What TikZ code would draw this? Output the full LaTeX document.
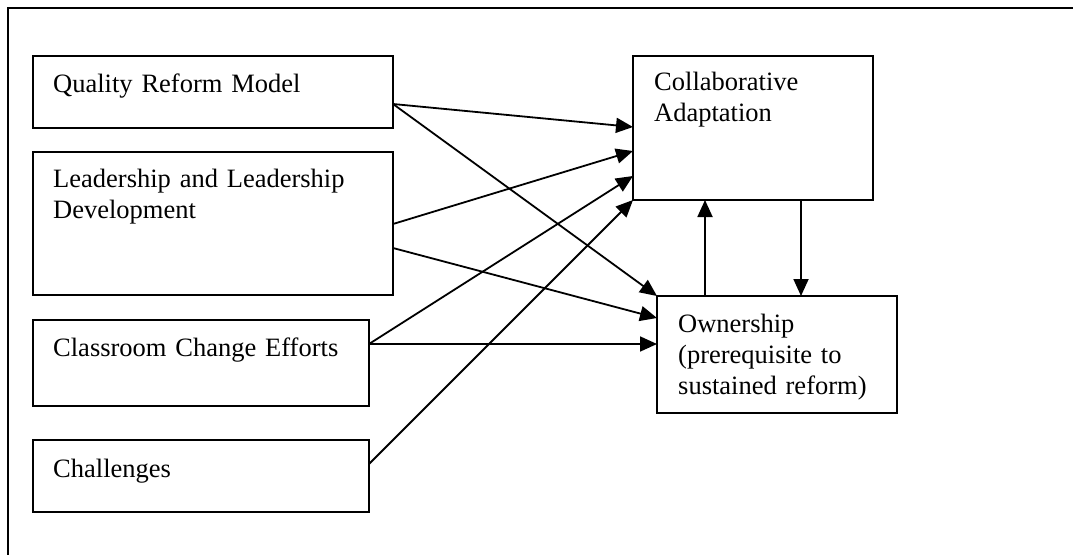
\documentclass[tikz,border=0pt]{standalone}
\usepackage{fontspec}
\setmainfont{Liberation Serif}
\usetikzlibrary{arrows.meta,calc}
\begin{document}
\begin{tikzpicture}[x=1pt,y=-1pt,
  box/.style={draw, line width=1.8pt, anchor=north west, inner sep=0pt, outer sep=0pt},
  lbl/.style={anchor=base west, inner sep=0pt, text width=230pt, align=left,
    font=\fontsize{26.5}{31}\selectfont},
  arr/.style={line width=1.8pt, -{Triangle[length=17pt,width=15pt]}},
  frame/.style={line width=1.8pt}]
\useasboundingbox (0,0) rectangle (1073,554);
% outer frame
\coordinate (fb) at (8,560);
\coordinate (fc) at (8,8);
\coordinate (fr) at (1080,8);
\draw[frame] (fb) -- (fc) -- (fr);
% boxes
\node[box, minimum width=360pt, minimum height=72pt] (qrm) at (33,56) {};
\node[box, minimum width=360pt, minimum height=143pt] (lead) at (33,152) {};
\node[box, minimum width=336pt, minimum height=86pt] (class) at (33,320) {};
\node[box, minimum width=336pt, minimum height=72pt] (chal) at (33,440) {};
\node[box, minimum width=240pt, minimum height=144pt] (ca) at (633,56) {};
\node[box, minimum width=240pt, minimum height=117pt] (own) at (657,296) {};
% labels
\node[lbl, text width=340pt] (tqrm) at ($(qrm.north west)+(20,36)$) {Quality Reform Model};
\node[lbl, text width=340pt] (tlead) at ($(lead.north west)+(20,35)$) {Leadership and Leadership\\Development};
\node[lbl, text width=320pt] (tclass) at ($(class.north west)+(20,36)$) {Classroom Change Efforts};
\node[lbl, text width=320pt] (tchal) at ($(chal.north west)+(20,37)$) {Challenges};
\node[lbl] (tca) at ($(ca.north west)+(21,34)$) {Collaborative\\Adaptation};
\node[lbl] (town) at ($(own.north west)+(21,36)$) {Ownership\\(prerequisite to\\sustained reform)};
% connector points
\coordinate (q1) at ($(qrm.north east)+(0,48)$);
\coordinate (l1) at ($(lead.north east)+(0,72)$);
\coordinate (l2) at ($(lead.north east)+(0,96)$);
\coordinate (c1) at ($(class.north east)+(0,24)$);
\coordinate (h1) at ($(chal.north east)+(0,24)$);
\coordinate (ca1) at ($(ca.north west)+(0,71)$);
\coordinate (ca2) at ($(ca.north west)+(0,95)$);
\coordinate (ca3) at ($(ca.north west)+(0,120)$);
\coordinate (ca4) at ($(ca.south west)+(72,0)$);
\coordinate (ca5) at ($(ca.south west)+(168,0)$);
\coordinate (o1) at ($(own.north west)+(0,22)$);
\coordinate (o2) at ($(own.north west)+(0,48)$);
\coordinate (o3) at ($(own.north west)+(48,0)$);
\coordinate (o4) at ($(own.north west)+(144,0)$);
% arrows
\draw[arr] (q1) -- (ca1);
\draw[arr] (q1) -- (own.north west);
\draw[arr] (l1) -- (ca2);
\draw[arr] (l2) -- (o1);
\draw[arr] (c1) -- (ca3);
\draw[arr] (c1) -- (o2);
\draw[arr] (h1) -- (ca.south west);
\draw[arr] (o3) -- (ca4);
\draw[arr] (ca5) -- (o4);
\end{tikzpicture}
\end{document}
